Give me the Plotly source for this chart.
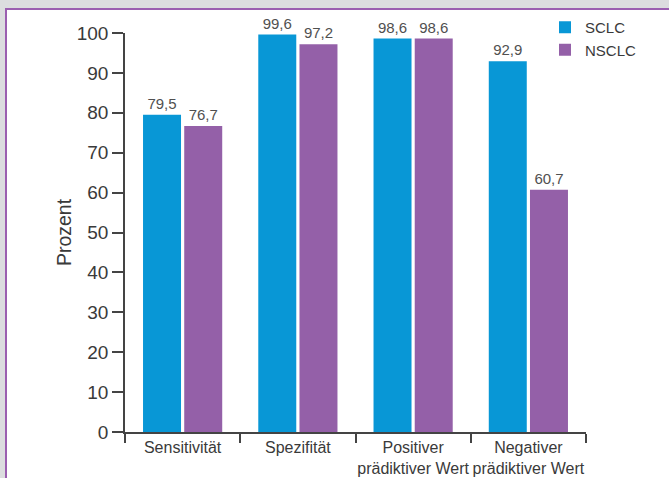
import plotly.graph_objects as go

categories = ["Sensitivität", "Spezifität", "Positiver<br>prädiktiver Wert", "Negativer<br>prädiktiver Wert"]
sclc = [79.5, 99.6, 98.6, 92.9]
nsclc = [76.7, 97.2, 98.6, 60.7]
y_ticks = list(range(0, 101, 10))

BLUE = "#0897d6"
PURPLE = "#9460a8"
FRAME = "#9b5fb0"
TEXT = "#3a3a3a"
FONT = "Liberation Sans, Arial, sans-serif"


def de(v):
    return f"{v:.1f}".replace(".", ",")


fig = go.Figure()
for name, vals, color in [("SCLC", sclc, BLUE), ("NSCLC", nsclc, PURPLE)]:
    fig.add_trace(go.Bar(
        name=name, x=categories, y=vals,
        marker=dict(color=color, line=dict(width=0)),
        text=[de(v) for v in vals], textposition="outside",
        textfont=dict(size=15, color="#505050", family=FONT),
        cliponaxis=False,
    ))

# plot area: x 125..586 px, y 32..432 px
L, R, T, B = 125, 586, 32, 432
W, H = R - L, B - T


def px_x(p):
    return (p - L) / W


def px_y(p):
    return (B - p) / H


fig.update_layout(
    width=669, height=478,
    margin=dict(l=L, r=669 - R, t=T, b=478 - B, pad=0),
    paper_bgcolor="#dcdddf",
    plot_bgcolor="rgba(0,0,0,0)",
    font=dict(family=FONT, color=TEXT),
    barmode="group", bargap=0.285, bargroupgap=0.078,
    showlegend=True,
    legend=dict(x=px_x(545), y=px_y(11), xanchor="left", yanchor="top",
                font=dict(size=15, color=TEXT), bgcolor="rgba(0,0,0,0)",
                itemwidth=30, tracegroupgap=0),
    shapes=[dict(type="rect", xref="paper", yref="paper", layer="below",
                 x0=px_x(6), x1=px_x(720), y0=px_y(520), y1=px_y(8),
                 fillcolor="white", line=dict(color=FRAME, width=2))],
    xaxis=dict(showline=True, linecolor="#444444", linewidth=1.5,
               ticks="outside", tickson="boundaries", ticklen=9, tickwidth=1.5,
               tickcolor="#444444", tickfont=dict(size=16, color=TEXT),
               tickangle=0, automargin=False,
               showgrid=False, zeroline=False),
    yaxis=dict(range=[0, 100], tickvals=y_ticks, showline=True,
               linecolor="#444444", linewidth=1.5, ticks="outside", ticklen=11,
               tickwidth=1.5, tickcolor="#444444", automargin=False,
               tickfont=dict(size=19, color=TEXT), showgrid=False, zeroline=False,
               title=dict(text="Prozent", font=dict(size=19.5, color=TEXT), standoff=0)),
)

fig.write_html("out.html")
